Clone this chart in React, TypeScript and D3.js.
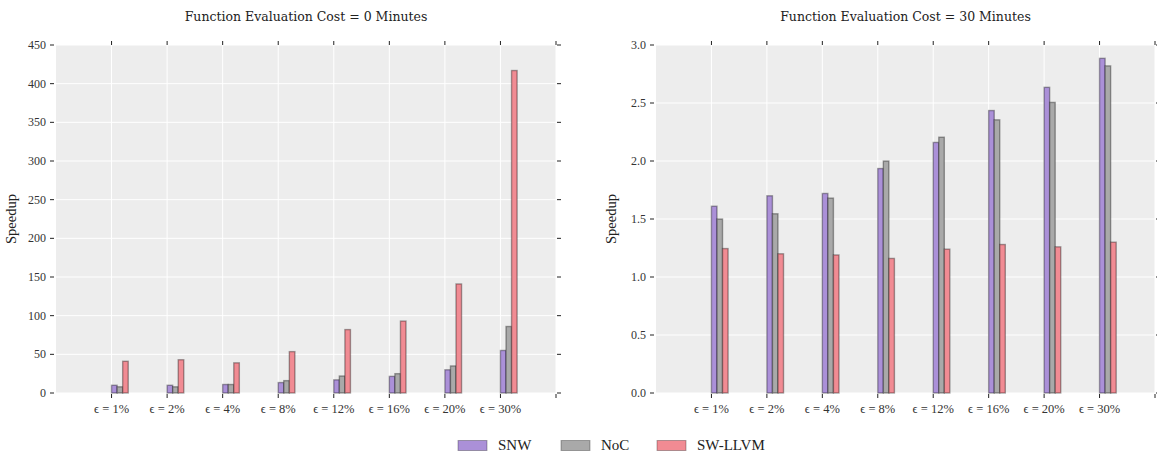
import React from "react";
import * as d3 from "d3";

const categories = ["ϵ = 1%", "ϵ = 2%", "ϵ = 4%", "ϵ = 8%", "ϵ = 12%", "ϵ = 16%", "ϵ = 20%", "ϵ = 30%"];
const seriesNames = ["SNW", "NoC", "SW-LLVM"];
const seriesColors = ["#ab90d8", "#a9a9a9", "#f18b93"];

const cost0SNW = [10, 10, 11, 13.5, 17, 21.5, 30, 55];
const cost0NoC = [8, 8, 11, 16, 22, 25, 35, 86];
const cost0SW = [41, 43, 39, 53.5, 82, 93, 141, 417];

const cost30SNW = [1.61, 1.70, 1.72, 1.935, 2.16, 2.435, 2.635, 2.885];
const cost30NoC = [1.50, 1.545, 1.68, 2.0, 2.205, 2.355, 2.505, 2.82];
const cost30SW = [1.245, 1.2, 1.19, 1.16, 1.24, 1.28, 1.26, 1.30];

const ticks0 = [0, 50, 100, 150, 200, 250, 300, 350, 400, 450];
const ticks30 = [0, 0.5, 1.0, 1.5, 2.0, 2.5, 3.0];

const FONT = "'Liberation Serif', 'DejaVu Serif', serif";
const TITLE_FONT = "'DejaVu Serif', serif";

type PanelProps = {
  x0: number;
  x1: number;
  title: string;
  series: number[][];
  yMax: number;
  yTicks: number[];
  fmt: (v: number) => string;
};

function Panel({ x0, x1, title, series, yMax, yTicks, fmt }: PanelProps) {
  const y0 = 45;
  const y1 = 393;
  const x = d3.scaleLinear().domain([0, 9]).range([x0, x1]);
  const y = d3.scaleLinear().domain([0, yMax]).range([y1, y0]);
  const barW = 0.1;
  const catPos = d3.range(1, 10);
  return (
    <g>
      <text x={(x0 + x1) / 2} y={21} textAnchor="middle" fontFamily={TITLE_FONT} fontSize={12.5} fill="#222">
        {title}
      </text>
      <rect x={x0} y={y0} width={x1 - x0} height={y1 - y0} fill="#ededed" />
      {yTicks.map((t) => (
        <line key={"hg" + t} x1={x0} x2={x1} y1={y(t)} y2={y(t)} stroke="#ffffff" strokeWidth={1} />
      ))}
      {catPos.map((c) => (
        <line key={"vg" + c} x1={x(c)} x2={x(c)} y1={y0} y2={y1} stroke="#ffffff" strokeWidth={1} />
      ))}
      {series.map((vals, s) =>
        vals.map((v, i) => {
          const bx = x(i + 1 + s * barW);
          const bw = x(barW) - x(0);
          return (
            <rect
              key={s + "-" + i}
              x={bx}
              y={y(v)}
              width={bw}
              height={y(0) - y(v)}
              fill={seriesColors[s]}
              stroke="rgba(0,0,0,0.35)"
              strokeWidth={1.4}
            />
          );
        })
      )}
      {yTicks.map((t) => (
        <g key={"yt" + t}>
          <line x1={x0 - 6} x2={x0 - 2} y1={y(t)} y2={y(t)} stroke="#222" strokeWidth={1} />
          <line x1={x1 + 1} x2={x1 + 5} y1={y(t)} y2={y(t)} stroke="#222" strokeWidth={1} />
          <text x={x0 - 10} y={y(t) + 4} textAnchor="end" fontFamily={FONT} fontSize={12} fill="#333">
            {fmt(t)}
          </text>
        </g>
      ))}
      {catPos.map((c) => (
        <g key={"xt" + c}>
          <line x1={x(c)} x2={x(c)} y1={y0 - 4} y2={y0} stroke="#222" strokeWidth={1} />
          <line x1={x(c)} x2={x(c)} y1={y1 + 1} y2={y1 + 5} stroke="#222" strokeWidth={1} />
        </g>
      ))}
      {categories.map((c, i) => (
        <text key={"xl" + i} x={x(i + 1)} y={413} textAnchor="middle" fontFamily={FONT} fontSize={12.5} fill="#333">
          {c}
        </text>
      ))}
      <text
        transform={`translate(${x0 - 40},${(y0 + y1) / 2}) rotate(-90)`}
        textAnchor="middle"
        fontFamily={FONT}
        fontSize={14.5}
        fill="#222"
      >
        Speedup
      </text>
    </g>
  );
}

export default function App() {
  const legendX = [458, 561, 657];
  return (
    <svg width={1157} height={453} style={{ position: "absolute", left: 0, top: 0, background: "#fff" }}>
      <Panel
        x0={56}
        x1={556}
        title="Function Evaluation Cost = 0 Minutes"
        series={[cost0SNW, cost0NoC, cost0SW]}
        yMax={450}
        yTicks={ticks0}
        fmt={(v) => String(v)}
      />
      <Panel
        x0={656}
        x1={1155}
        title="Function Evaluation Cost = 30 Minutes"
        series={[cost30SNW, cost30NoC, cost30SW]}
        yMax={3}
        yTicks={ticks30}
        fmt={(v) => v.toFixed(1)}
      />
      {seriesNames.map((n, i) => (
        <g key={n}>
          <rect x={legendX[i]} y={440.5} width={29} height={10} fill={seriesColors[i]} stroke="rgba(0,0,0,0.3)" strokeWidth={1} />
          <text x={legendX[i] + 40} y={450} fontFamily={FONT} fontSize={15} fill="#222">
            {n}
          </text>
        </g>
      ))}
    </svg>
  );
}
